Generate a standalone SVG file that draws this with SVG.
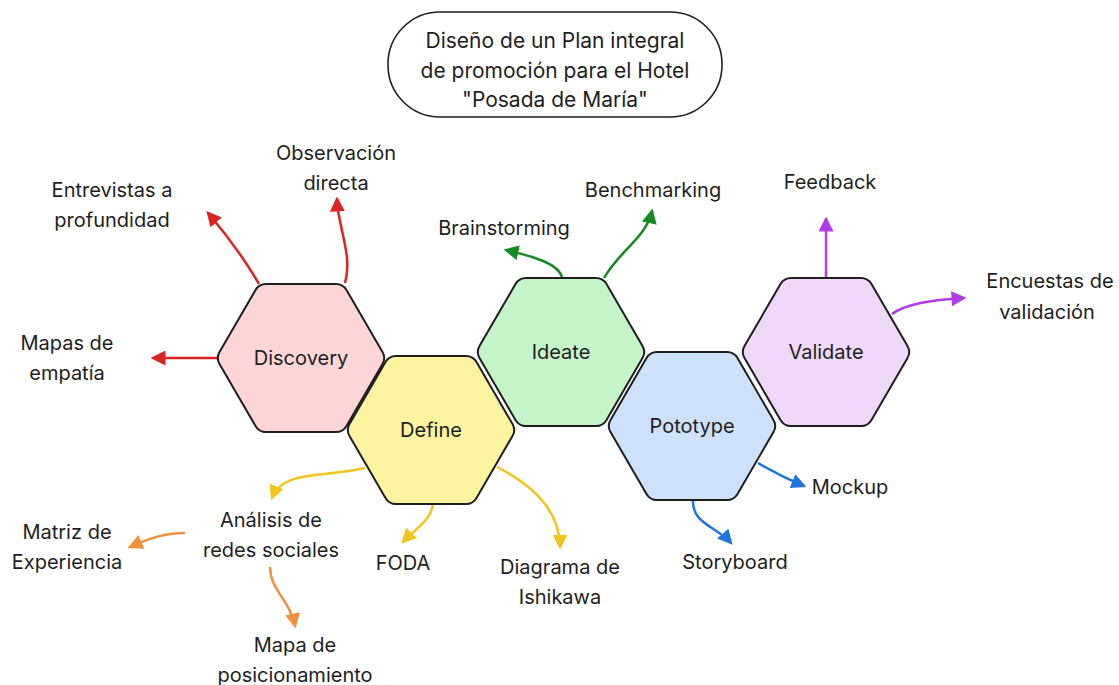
<svg xmlns="http://www.w3.org/2000/svg" width="1119" height="685" viewBox="0 0 1119 685">
<style>
text{font-family:Inter,"Noto Sans","Liberation Sans",sans-serif;font-size:20px;fill:#1e1e1e;text-anchor:middle;dominant-baseline:central}
.t{font-size:21px}
.hex{stroke:#1e1e1e;stroke-width:2}
.c{fill:none;stroke-width:2.5}
</style>
<defs>
<path id="hex" d="M-35,-74 L35,-74 Q42,-74 45.5,-67.95 L81.5,-6.05 Q85,0 81.5,6.05 L45.5,67.95 Q42,74 35,74 L-35,74 Q-42,74 -45.5,67.95 L-81.5,6.05 Q-85,0 -81.5,-6.05 L-45.5,-67.95 Q-42,-74 -35,-74 Z"/>
<marker id="mr" viewBox="0 0 12 12" refX="10" refY="6" markerWidth="15" markerHeight="15" markerUnits="userSpaceOnUse" orient="auto"><path d="M0,0 L12,6 L0,12 Z" fill="#dd2222"/></marker>
<marker id="mg" viewBox="0 0 12 12" refX="10" refY="6" markerWidth="15" markerHeight="15" markerUnits="userSpaceOnUse" orient="auto"><path d="M0,0 L12,6 L0,12 Z" fill="#168a24"/></marker>
<marker id="mp" viewBox="0 0 12 12" refX="10" refY="6" markerWidth="15" markerHeight="15" markerUnits="userSpaceOnUse" orient="auto"><path d="M0,0 L12,6 L0,12 Z" fill="#b23ae6"/></marker>
<marker id="mb" viewBox="0 0 12 12" refX="10" refY="6" markerWidth="15" markerHeight="15" markerUnits="userSpaceOnUse" orient="auto"><path d="M0,0 L12,6 L0,12 Z" fill="#1f74dd"/></marker>
<marker id="my" viewBox="0 0 12 12" refX="10" refY="6" markerWidth="15" markerHeight="15" markerUnits="userSpaceOnUse" orient="auto"><path d="M0,0 L12,6 L0,12 Z" fill="#f3c41c"/></marker>
<marker id="mo" viewBox="0 0 12 12" refX="10" refY="6" markerWidth="15" markerHeight="15" markerUnits="userSpaceOnUse" orient="auto"><path d="M0,0 L12,6 L0,12 Z" fill="#f0903a"/></marker>
</defs>
<rect width="1119" height="685" fill="#ffffff"/>

<g id="title">
<rect x="388" y="12" width="334" height="105" rx="52" ry="52" fill="#ffffff" stroke="#1e1e1e" stroke-width="1.6"/>
<text class="t" x="555" y="40">Diseño de un Plan integral</text>
<text class="t" x="555" y="70">de promoción para el Hotel</text>
<text class="t" x="555" y="99">"Posada de María"</text>
</g>

<g id="connectors">
<path class="c" stroke="#dd2222" marker-end="url(#mr)" d="M259,284 Q238,248 208,213"/>
<path class="c" stroke="#dd2222" marker-end="url(#mr)" d="M345,283 C353,255 338,228 337,199"/>
<path class="c" stroke="#dd2222" marker-end="url(#mr)" d="M217,358 L153,358"/>
<path class="c" stroke="#168a24" marker-end="url(#mg)" d="M562,278 C560,264 532,256 506,250"/>
<path class="c" stroke="#168a24" marker-end="url(#mg)" d="M604,278 C620,250 646,238 652,211"/>
<path class="c" stroke="#b23ae6" marker-end="url(#mp)" d="M826,278 L826,219"/>
<path class="c" stroke="#b23ae6" marker-end="url(#mp)" d="M892,314 C906,304 930,300 964,298"/>
<path class="c" stroke="#1f74dd" marker-end="url(#mb)" d="M758,463 Q780,476 804,486"/>
<path class="c" stroke="#1f74dd" marker-end="url(#mb)" d="M693,500 C692,524 716,526 731,543"/>
<path class="c" stroke="#f3c41c" marker-end="url(#my)" d="M365,468 C320,478 283,470 272,498"/>
<path class="c" stroke="#f3c41c" marker-end="url(#my)" d="M433,503 C432,520 416,528 403,542"/>
<path class="c" stroke="#f3c41c" marker-end="url(#my)" d="M497,467 C532,485 560,510 560,547"/>
<path class="c" stroke="#f0903a" marker-end="url(#mo)" d="M185,533 C165,533 150,538 130,547"/>
<path class="c" stroke="#f0903a" marker-end="url(#mo)" d="M270,567 C270,590 290,600 295,626"/>
</g>

<g id="discovery" transform="translate(301,358)"><use href="#hex" class="hex" fill="#fcd5d7"/><text x="0" y="0">Discovery</text></g>
<g id="define" transform="translate(431,430)"><use href="#hex" class="hex" fill="#fef3a1"/><text x="0" y="0">Define</text></g>
<g id="ideate" transform="translate(561,352)"><use href="#hex" class="hex" fill="#c4f4c8"/><text x="0" y="0">Ideate</text></g>
<g id="pototype" transform="translate(692,426)"><use href="#hex" class="hex" fill="#cde1fa"/><text x="0" y="0">Pototype</text></g>
<g id="validate" transform="translate(826,352)"><use href="#hex" class="hex" fill="#f0d8fb"/><text x="0" y="0">Validate</text></g>

<g id="labels">
<text x="112" y="190">Entrevistas a</text>
<text x="112" y="220">profundidad</text>
<text x="336" y="153">Observación</text>
<text x="336" y="183">directa</text>
<text x="67" y="343">Mapas de</text>
<text x="67" y="373">empatía</text>
<text x="504" y="228">Brainstorming</text>
<text x="653" y="190">Benchmarking</text>
<text x="830" y="182">Feedback</text>
<text x="1050" y="281">Encuestas de</text>
<text x="1047" y="312">validación</text>
<text x="850" y="487">Mockup</text>
<text x="735" y="562">Storyboard</text>
<text x="403" y="563">FODA</text>
<text x="560" y="567">Diagrama de</text>
<text x="560" y="597">Ishikawa</text>
<text x="271" y="520">Análisis de</text>
<text x="271" y="550">redes sociales</text>
<text x="67" y="532">Matriz de</text>
<text x="67" y="562">Experiencia</text>
<text x="295" y="645">Mapa de</text>
<text x="295" y="675">posicionamiento</text>
</g>
</svg>
